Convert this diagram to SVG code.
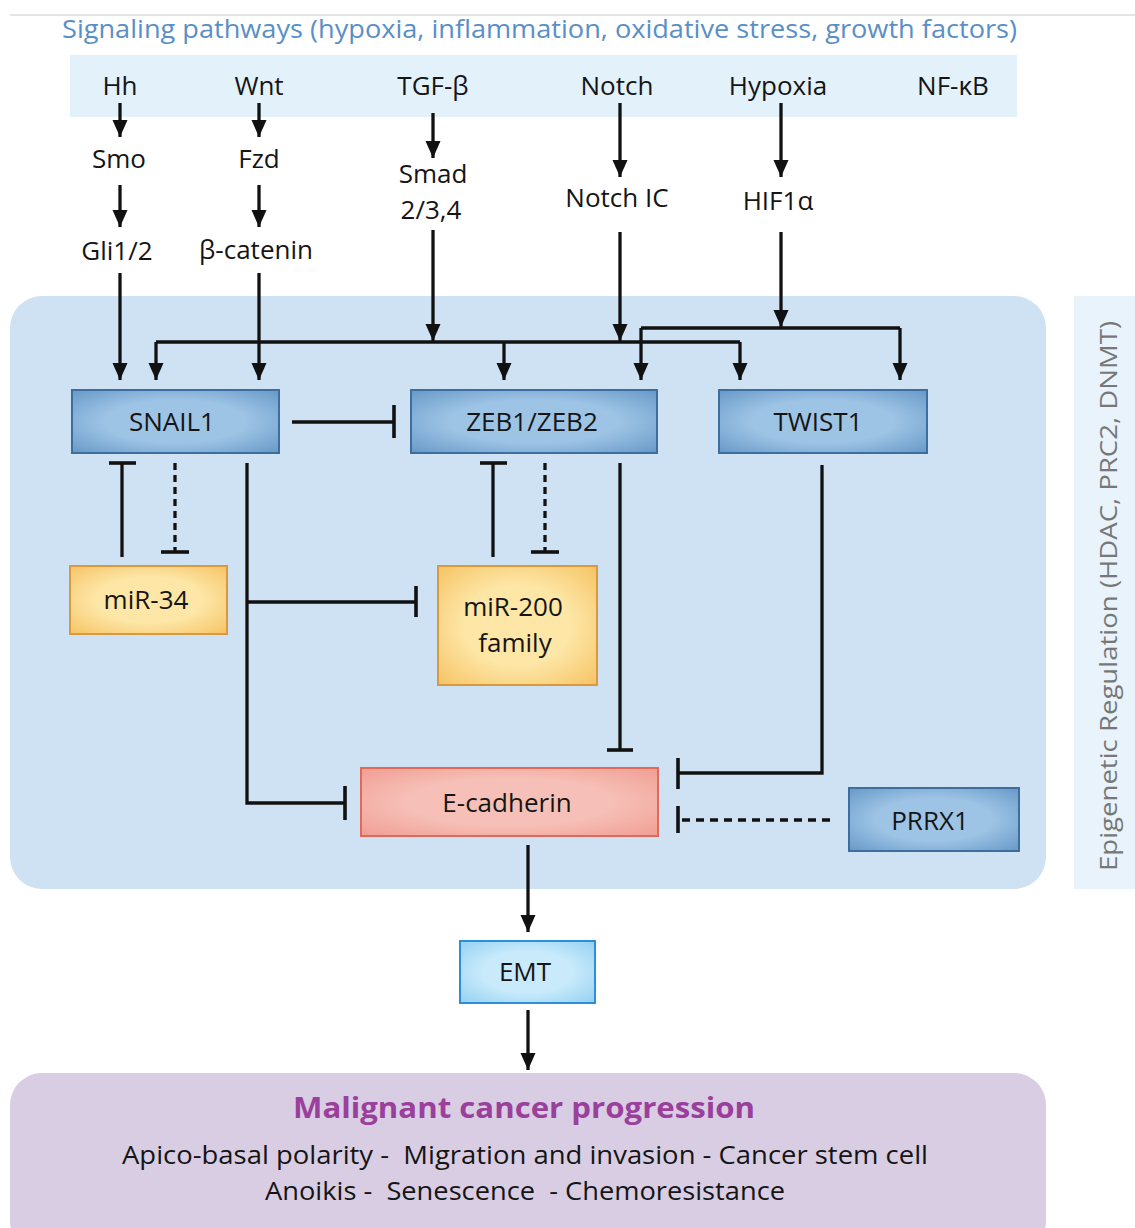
<svg xmlns="http://www.w3.org/2000/svg" width="1135" height="1228" viewBox="0 0 1135 1228">
<style>
.t{font-family:"Open Sans","Noto Sans","Liberation Sans",sans-serif;font-size:26px;fill:#151515;text-anchor:middle}
.c{stroke:#111;stroke-width:3.3;fill:none}
.d{stroke:#111;stroke-width:3.3;fill:none;stroke-dasharray:7 5}
.bar{stroke:#111;stroke-width:3.6}
.blue{fill:url(#gb);stroke:#3e6e9e;stroke-width:2}
.yel{fill:url(#gy);stroke:#d89a3c;stroke-width:2}
.pre{white-space:pre}
</style>
<defs>
<radialGradient id="gb" cx="50%" cy="50%" r="75%"><stop offset="0.45" stop-color="#9ec4e5"/><stop offset="1" stop-color="#5f93c4"/></radialGradient>
<radialGradient id="gy" cx="50%" cy="50%" r="75%"><stop offset="0.45" stop-color="#fde6a6"/><stop offset="1" stop-color="#f5bf5c"/></radialGradient>
<radialGradient id="gp" cx="50%" cy="50%" r="75%"><stop offset="0.45" stop-color="#f6c0b8"/><stop offset="1" stop-color="#f0998d"/></radialGradient>
<radialGradient id="ge" cx="50%" cy="50%" r="75%"><stop offset="0.45" stop-color="#c8eafb"/><stop offset="1" stop-color="#8ccdf1"/></radialGradient>
<marker id="ar" markerUnits="userSpaceOnUse" markerWidth="18" markerHeight="18" viewBox="0 -9 18 18" refX="17" refY="0" orient="auto"><path d="M0,-7.5 L17,0 L0,7.5 z" fill="#111"/></marker>
</defs>
<rect width="1135" height="1228" fill="#fff"/>
<line x1="10" y1="15" x2="1135" y2="15" stroke="#dcdcdc" stroke-width="1.5"/>
<g id="signaling-header">
<text x="62" y="38" style="font-family:'Open Sans','Noto Sans',sans-serif;font-size:26px;fill:#5a8fc6" textLength="955" lengthAdjust="spacingAndGlyphs">Signaling pathways (hypoxia, inflammation, oxidative stress, growth factors)</text>
<rect x="70" y="55" width="947" height="62" fill="#e3f1fa"/>
</g>
<rect id="core-region" x="10" y="296" width="1036" height="593" rx="32" fill="#cfe2f3"/>
<g id="epigenetic">
<rect x="1074" y="296" width="61" height="593" fill="#e8f3fb"/>
<text transform="translate(1117,596) rotate(-90)" style="font-family:'Open Sans','Noto Sans',sans-serif;font-size:24px;fill:#777;text-anchor:middle" textLength="550" lengthAdjust="spacingAndGlyphs">Epigenetic Regulation (HDAC, PRC2, DNMT)</text>
</g>
<rect id="malignant-region" x="10" y="1073" width="1036" height="180" rx="32" fill="#d8cde3"/>
<g id="Hh"><text class="t" x="120" y="95">Hh</text></g>
<g id="Wnt"><text class="t" x="259" y="95">Wnt</text></g>
<g id="TGF"><text class="t" x="433" y="95">TGF-β</text></g>
<g id="Notch"><text class="t" x="617" y="95">Notch</text></g>
<g id="Hypoxia"><text class="t" x="778" y="95">Hypoxia</text></g>
<g id="NFkB"><text class="t" x="953" y="95">NF-κB</text></g>
<g id="Smo"><text class="t" x="119" y="168">Smo</text></g>
<g id="Fzd"><text class="t" x="259" y="168">Fzd</text></g>
<g id="Gli"><text class="t" x="117" y="260">Gli1/2</text></g>
<g id="bcatenin"><text class="t" x="256" y="259">β-catenin</text></g>
<g id="Smad"><text class="t" x="433" y="183">Smad</text><text class="t" x="431" y="219">2/3,4</text></g>
<g id="NotchIC"><text class="t" x="617" y="207">Notch IC</text></g>
<g id="HIF1a"><text class="t" x="778" y="210">HIF1α</text></g>
<g id="SNAIL1"><rect class="blue" x="72" y="390" width="207" height="63"/><text class="t" x="172" y="431">SNAIL1</text></g>
<g id="ZEB"><rect class="blue" x="411" y="390" width="246" height="63"/><text class="t" x="532" y="431">ZEB1/ZEB2</text></g>
<g id="TWIST1"><rect class="blue" x="719" y="390" width="208" height="63"/><text class="t" x="818" y="431">TWIST1</text></g>
<g id="miR34"><rect class="yel" x="70" y="566" width="157" height="68"/><text class="t" x="146" y="609">miR-34</text></g>
<g id="miR200"><rect class="yel" x="438" y="566" width="159" height="119"/><text class="t" x="513" y="616">miR-200</text><text class="t" x="515" y="652">family</text></g>
<g id="Ecadherin"><rect x="361" y="768" width="297" height="68" fill="url(#gp)" stroke="#e06a5a" stroke-width="2"/><text class="t" x="507" y="812">E-cadherin</text></g>
<g id="PRRX1"><rect class="blue" x="849" y="788" width="170" height="63"/><text class="t" x="930" y="830">PRRX1</text></g>
<g id="EMT"><rect x="460" y="941" width="135" height="62" fill="url(#ge)" stroke="#2f8fd6" stroke-width="2"/><text class="t" x="525" y="981">EMT</text></g>
<g id="malignant">
<text x="524" y="1118" style="font-family:'Open Sans','Noto Sans',sans-serif;font-size:28px;font-weight:bold;fill:#9b3f9c;text-anchor:middle" textLength="462" lengthAdjust="spacingAndGlyphs">Malignant cancer progression</text>
<text class="t pre" x="525" y="1164" style="font-size:26px" textLength="806" lengthAdjust="spacingAndGlyphs">Apico-basal polarity -  Migration and invasion - Cancer stem cell</text>
<text class="t pre" x="525" y="1200" style="font-size:26px" textLength="520" lengthAdjust="spacingAndGlyphs">Anoikis -  Senescence  - Chemoresistance</text>
</g>
<g id="connectors">
<line class="c" x1="120" y1="103" x2="120" y2="137" marker-end="url(#ar)"/>
<line class="c" x1="120" y1="185" x2="120" y2="227" marker-end="url(#ar)"/>
<line class="c" x1="120" y1="273" x2="120" y2="380" marker-end="url(#ar)"/>
<line class="c" x1="259" y1="103" x2="259" y2="137" marker-end="url(#ar)"/>
<line class="c" x1="259" y1="185" x2="259" y2="227" marker-end="url(#ar)"/>
<line class="c" x1="259" y1="273" x2="259" y2="380" marker-end="url(#ar)"/>
<line class="c" x1="433" y1="113" x2="433" y2="158" marker-end="url(#ar)"/>
<line class="c" x1="433" y1="230" x2="433" y2="341" marker-end="url(#ar)"/>
<line class="c" x1="620" y1="103" x2="620" y2="177" marker-end="url(#ar)"/>
<line class="c" x1="620" y1="232" x2="620" y2="341" marker-end="url(#ar)"/>
<line class="c" x1="781" y1="103" x2="781" y2="177" marker-end="url(#ar)"/>
<line class="c" x1="781" y1="232" x2="781" y2="327" marker-end="url(#ar)"/>
<path class="c" d="M156,342 H740"/>
<line class="c" x1="156" y1="342" x2="156" y2="380" marker-end="url(#ar)"/>
<line class="c" x1="504" y1="342" x2="504" y2="380" marker-end="url(#ar)"/>
<line class="c" x1="740" y1="342" x2="740" y2="380" marker-end="url(#ar)"/>
<path class="c" d="M641,328 H900"/>
<line class="c" x1="641" y1="328" x2="641" y2="380" marker-end="url(#ar)"/>
<line class="c" x1="900" y1="328" x2="900" y2="380" marker-end="url(#ar)"/>
<line class="c" x1="292" y1="422" x2="394" y2="422"/><line class="bar" x1="394" y1="405" x2="394" y2="438"/>
<line class="c" x1="122" y1="557" x2="122" y2="463"/><line class="bar" x1="109" y1="463" x2="136" y2="463"/>
<line class="d" x1="175" y1="463" x2="175" y2="552"/><line class="bar" x1="161" y1="552" x2="189" y2="552"/>
<line class="c" x1="493" y1="557" x2="493" y2="463"/><line class="bar" x1="480" y1="463" x2="507" y2="463"/>
<line class="d" x1="545" y1="463" x2="545" y2="552"/><line class="bar" x1="531" y1="552" x2="559" y2="552"/>
<path class="c" d="M247,463 V803 H345"/><line class="bar" x1="345" y1="786" x2="345" y2="820"/>
<line class="c" x1="247" y1="602" x2="416" y2="602"/><line class="bar" x1="416" y1="586" x2="416" y2="617"/>
<line class="c" x1="620" y1="463" x2="620" y2="750"/><line class="bar" x1="607" y1="750" x2="633" y2="750"/>
<path class="c" d="M822,465 V773 H678"/><line class="bar" x1="678" y1="758" x2="678" y2="789"/>
<line class="d" x1="830" y1="820" x2="678" y2="820" style="stroke-dasharray:8 6"/><line class="bar" x1="678" y1="806" x2="678" y2="833"/>
<line class="c" x1="528" y1="845" x2="528" y2="932" marker-end="url(#ar)"/>
<line class="c" x1="528" y1="1010" x2="528" y2="1070" marker-end="url(#ar)"/>
</g>
</svg>
